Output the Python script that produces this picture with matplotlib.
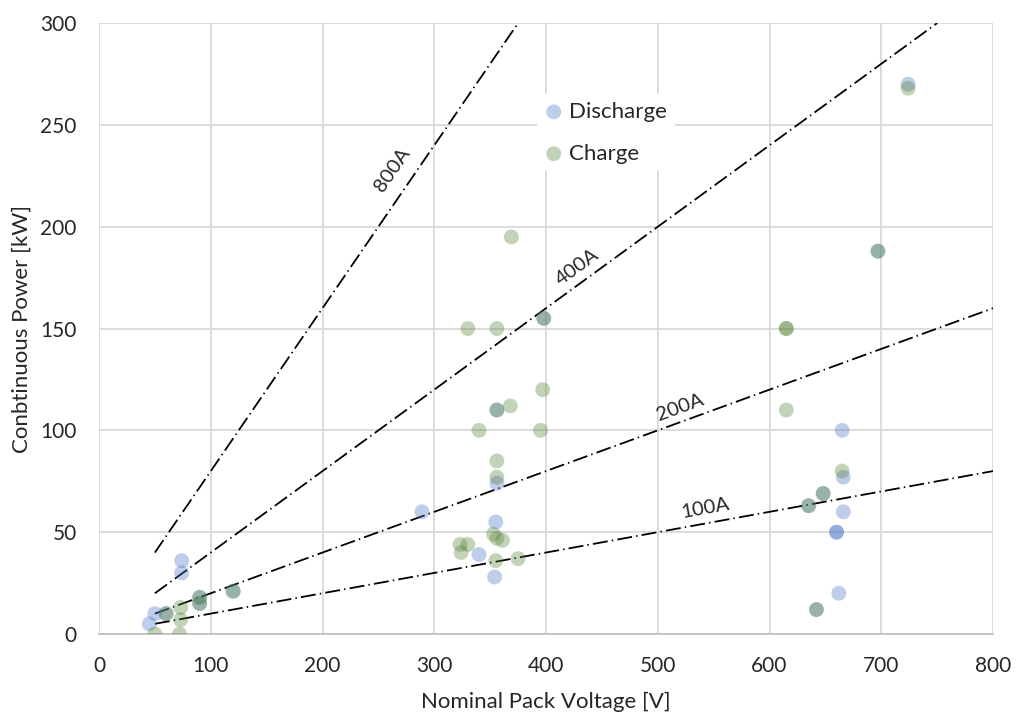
import numpy as np
import matplotlib.pyplot as plt

# Discharge / charge continuous power vs nominal pack voltage
discharge_v = [45, 50, 60, 74, 74, 90, 90, 120, 289, 340, 354, 355, 356, 356,
               398, 635, 642, 648, 660, 660, 662, 665, 666, 666, 697, 724]
discharge_p = [5, 10, 10, 36, 30, 18, 15, 21, 60, 39, 28, 55, 74, 110,
               155, 63, 12, 69, 50, 50, 20, 100, 77, 60, 188, 270]

charge_v = [50, 60, 72, 73, 73, 90, 90, 120, 323, 324, 330, 330, 340, 353,
            355, 356, 356, 356, 356, 356, 361, 368, 369, 375, 395, 397, 398,
            615, 615, 615, 635, 642, 648, 665, 697, 724]
charge_p = [0, 10, 0, 13, 7, 18, 15, 21, 44, 40, 44, 150, 100, 49,
            36, 47, 77, 85, 150, 110, 46, 112, 195, 37, 100, 120, 155,
            150, 150, 110, 63, 12, 69, 80, 188, 268]

# constant-current reference lines (endpoints)
current_labels = ["800A", "400A", "200A", "100A"]
current_v = [[50, 375], [50, 750], [50, 800], [50, 800]]
current_p = [[40, 300], [20, 300], [10, 160], [5, 80]]
# label anchor points (voltage, power)
label_v = [262, 428, 520, 543]
label_p = [228, 180, 111, 62]

text_color = "#262626"
plt.rcParams["font.family"] = ["Lato", "DejaVu Sans"]

fig = plt.figure(figsize=(10.23, 7.22), dpi=100)
ax = fig.add_axes([0.0968, 0.1219, 0.8739, 0.8461])

ax.set_xlim(0, 800)
ax.set_ylim(0, 300)

dash = (0, (8.3, 2.3, 0.8, 2.3))
for v, p in zip(current_v, current_p):
    ax.plot(v, p, color="black", linewidth=1.3, linestyle=dash, zorder=2)

ax.scatter(discharge_v, discharge_p, s=115, color="#4472C4", alpha=0.35,
           edgecolors="none", label="Discharge", zorder=3)
ax.scatter(charge_v, charge_p, s=115, color="#548235", alpha=0.35,
           edgecolors="none", label="Charge", zorder=3)

# rotate labels to follow their line on screen
fig.canvas.draw()
for lab, v, p, lv, lp in zip(current_labels, current_v, current_p, label_v, label_p):
    p0 = ax.transData.transform((v[0], p[0]))
    p1 = ax.transData.transform((v[1], p[1]))
    ang = np.degrees(np.arctan2(p1[1] - p0[1], p1[0] - p0[0]))
    ax.text(lv, lp, lab, rotation=ang, rotation_mode="anchor",
            ha="center", va="center", fontsize=14.5, color=text_color, zorder=4)

ax.set_xticks(np.arange(0, 801, 100))
ax.set_yticks(np.arange(0, 301, 50))
ax.tick_params(length=0, labelsize=15, colors=text_color, pad=16)
ax.grid(True, color="#d9d9d9", linewidth=1.3, zorder=0)
ax.set_axisbelow(True)
for s in ["top", "right", "left"]:
    ax.spines[s].set_visible(False)
ax.spines["bottom"].set_color("#bfbfbf")
ax.spines["bottom"].set_linewidth(1.3)

ax.set_xlabel("Nominal Pack Voltage [V]", fontsize=16, color=text_color, labelpad=11)
ax.set_ylabel("Conbtinuous Power [kW]", fontsize=16, color=text_color, labelpad=6)

leg = ax.legend(loc="upper left", bbox_to_anchor=(0.49, 0.884), borderaxespad=0,
                frameon=True, fontsize=16, handlelength=0.8, handletextpad=0.3,
                labelspacing=0.98, borderpad=0.35, markerscale=1.0,
                labelcolor=text_color)
leg.get_frame().set_edgecolor("none")
leg.get_frame().set_facecolor("white")
leg.get_frame().set_alpha(1)
leg.get_frame().set_boxstyle("square", pad=0)

fig.savefig("out.png", dpi=100)
